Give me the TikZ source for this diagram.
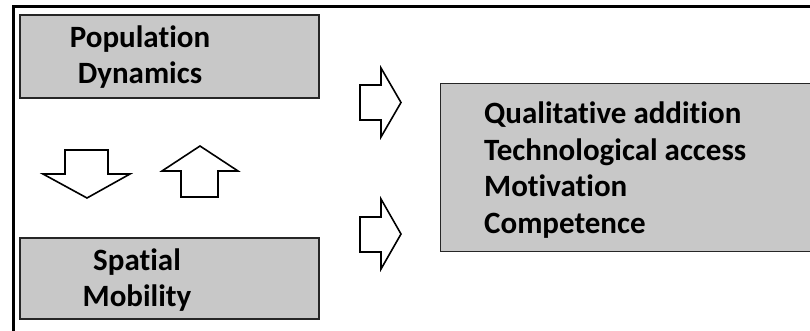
\documentclass[tikz,border=0pt]{standalone}
\usepackage{fontspec}
\setmainfont{Carlito}[Ligatures=NoCommon]
\definecolor{boxgray}{RGB}{200,200,200}
\begin{document}
\begin{tikzpicture}[x=1pt,y=-1pt,
  box/.style={draw=black!85, line width=1.4pt, fill=boxgray, inner sep=0pt},
  boxtext/.style={font=\fontsize{31}{36.5}\selectfont\bfseries, inner sep=0pt},
  blockarrow/.style={draw=black, line width=1.6pt, fill=white, line join=miter},
  frame/.style={draw=black, line width=3pt}]
\useasboundingbox (0,0) rectangle (810,331);
% frame
\draw[frame] (13,340) -- (13,7) -- (815,7);
% boxes
\node[box, minimum width=299pt, minimum height=83pt] (pd) at (169.5,56.5) {};
\node[box, minimum width=299pt, minimum height=81pt] (sm) at (169.5,278.5) {};
\node[box, minimum width=380pt, minimum height=168pt, anchor=north west] (qa) at (440,83) {};
% texts
\node[boxtext, align=center] (pdt) at (140,57) {Population\\Dynamics};
\node[boxtext, align=center] (smt) at (137,280) {Spatial\\Mobility};
\node[boxtext, align=left, anchor=west] (qat) at (484,170) {Qualitative addition\\Technological access\\Motivation\\Competence};
% block arrows
\draw[blockarrow] (65,150) -- (108,150) -- (108,174) -- (130,174) -- (87,198) -- (43,174) -- (65,174) -- cycle;
\draw[blockarrow] (181,197) -- (218,197) -- (218,171) -- (238,171) -- (200,146) -- (162,171) -- (181,171) -- cycle;
\draw[blockarrow] (360,85) -- (381,85) -- (381,68) -- (401,102.5) -- (381,137) -- (381,120) -- (360,120) -- cycle;
\draw[blockarrow] (360,217) -- (381,217) -- (381,199) -- (401,234) -- (381,269) -- (381,252) -- (360,252) -- cycle;
\end{tikzpicture}
\end{document}
